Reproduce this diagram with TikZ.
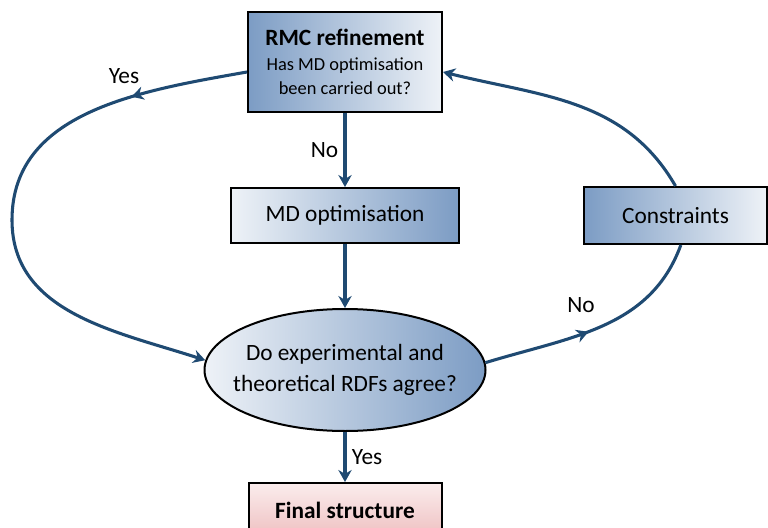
\documentclass[tikz,border=0pt]{standalone}
\usepackage{fontspec}
\setmainfont{Carlito}
\usepackage{tikz}
\usetikzlibrary{positioning, arrows.meta, shapes.geometric, decorations.markings}

\definecolor{flowblue}{HTML}{1F4A72}
\definecolor{steel}{HTML}{7C9CC4}
\definecolor{pale}{HTML}{EEF2F7}
\definecolor{pinktop}{HTML}{FBEDED}
\definecolor{pinkbot}{HTML}{EEBFC0}

\tikzset{
  box/.style={draw=black, line width=1.5pt, rectangle, align=center, inner sep=2pt},
  flow/.style={draw=flowblue, line width=2.3pt, -{Stealth[length=9pt,width=10pt]}},
  midarrow/.style={postaction={decorate}, decoration={markings,
      mark=at position #1 with {\arrow{Stealth[length=9pt,width=10pt]}}}},
  lbl/.style={font=\fontsize{17.5}{23}\selectfont, inner sep=2pt}
}

\begin{document}
\begin{tikzpicture}[font=\fontsize{17.5}{23}\selectfont, node distance=1cm]
	\useasboundingbox (0,0) rectangle (576pt,-396pt);
	\node[box, left color=steel, right color=pale, minimum width=145.5pt, minimum height=75pt, font=\fontsize{13.8}{16.5}\selectfont] (rmc) at (258.75pt,-46.5pt)
		{{\fontsize{17.5}{20}\selectfont\bfseries RMC refinement}\\[2pt]Has MD optimisation\\[1.5pt]been carried out?};
	\node[box, left color=pale, right color=steel, minimum width=171pt, minimum height=41.25pt, below=55.5pt of rmc] (md) {MD optimisation};
	\node[box, ellipse, left color=pale, right color=steel, minimum width=210.75pt, minimum height=91.5pt, inner xsep=-12pt, inner ysep=0pt, below=48pt of md] (agree)
		{Do experimental and\\theoretical RDFs agree?};
	\node[box, top color=pinktop, bottom color=pinkbot, minimum width=144.75pt, minimum height=41.25pt, below=37.5pt of agree] (final) {\textbf{Final structure}};
	\node[box, left color=steel, right color=pale, minimum width=137.25pt, minimum height=42.75pt, right=92.25pt of md] (cons) {Constraints};
	\coordinate (yesleft) at (9pt,-165pt);
	
	\draw[flow] (rmc) -- node[lbl, left=2pt] {No} (md);
	\draw[flow] (md) -- (agree);
	\draw[flow] (agree) -- node[lbl, right=2pt] {Yes} (final);
	
	\draw[flow, midarrow=0.21] ([yshift=-7.5pt]rmc.west) to[out=190, in=90] (yesleft) to[out=270, in=162] (agree.176);
	\draw[flowblue, line width=2.3pt, midarrow=0.45] (agree.3) to[out=17, in=250] ([xshift=4pt]cons.south);
	\draw[flow] (cons.north) to[out=120, in=-14] ([yshift=-7.5pt]rmc.east);
	
	\node[lbl] (yeslbl) at (93pt,-57pt) {Yes};
	\node[lbl] (nolbl) at (435.75pt,-228.75pt) {No};
\end{tikzpicture}
\end{document}
